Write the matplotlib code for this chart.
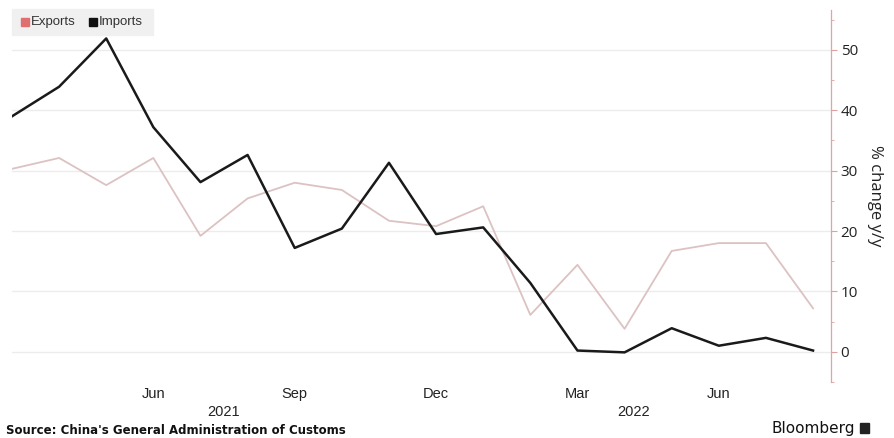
import matplotlib.pyplot as plt
import numpy as np

# monthly data, Mar 2021 .. Aug 2022
months = ['Mar', 'Apr', 'May', 'Jun', 'Jul', 'Aug', 'Sep', 'Oct', 'Nov', 'Dec',
          'Jan', 'Feb', 'Mar', 'Apr', 'May', 'Jun', 'Jul', 'Aug']
years = [2021] * 10 + [2022] * 8
exports = [30.3, 32.1, 27.6, 32.1, 19.2, 25.4, 28.0, 26.8, 21.7, 20.8,
           24.1, 6.1, 14.4, 3.8, 16.7, 18.0, 18.0, 7.2]
imports = [39.0, 43.9, 51.9, 37.2, 28.1, 32.6, 17.2, 20.4, 31.3, 19.5,
           20.6, 11.4, 0.2, -0.1, 3.9, 1.0, 2.3, 0.2]
tick_months = ['Jun', 'Sep', 'Dec', 'Mar']
year_labels = ['2021', '2022']
year_pos = [4.5, 13.2]

narrow = ['Liberation Sans', 'DejaVu Sans']

fig = plt.figure(figsize=(8.94, 4.38), dpi=100)
ax = fig.add_axes([0.0134, 0.128, 0.9161, 0.849])

x = np.arange(len(months))
ax.plot(x, exports, color='#dcc2c2', lw=1.3, zorder=3)
ax.plot(x, imports, color='#1a1a1a', lw=1.8, zorder=4)

ax.set_xlim(0, len(months) - 1 + 0.38)
ax.set_ylim(-5, 56.6)

# right y axis
ax.yaxis.tick_right()
ax.yaxis.set_label_position('right')
ax.set_yticks(np.arange(0, 51, 10))
ax.set_yticks(np.arange(-5, 56, 5), minor=True)
ax.tick_params(axis='y', which='major', length=4, color='#e0a0a0', pad=3,
               labelsize=11, labelcolor='#222222')
ax.tick_params(axis='y', which='minor', length=2, color='#e0a0a0')
for lab in ax.get_yticklabels():
    lab.set_family(['Open Sans', 'DejaVu Sans'])
ax.set_ylabel('% change y/y', rotation=-90, labelpad=18, fontsize=12,
              family=['Open Sans', 'DejaVu Sans'], color='#222222')

for s in ['top', 'left', 'bottom']:
    ax.spines[s].set_visible(False)
ax.spines['right'].set_color('#e3a3a3')
ax.spines['right'].set_linewidth(0.9)

ax.grid(axis='y', which='major', color='#ececec', lw=1.0)
ax.set_axisbelow(True)

# x ticks (skip the very first month at the left edge)
tpos = [i for i, m in enumerate(months) if m in tick_months and i > 0]
ax.set_xticks(tpos)
ax.set_xticklabels([months[i] for i in tpos], family=narrow, fontsize=10.5,
                   color='#222222')
ax.tick_params(axis='x', length=0, pad=4)

for yl, yp in zip(year_labels, year_pos):
    ax.text(yp, -0.062, yl, transform=ax.get_xaxis_transform(), ha='center',
            va='top', family=narrow, fontsize=10.5, color='#222222')

# legend box
fig.patches.append(plt.Rectangle((12 / 894, 1 - 35 / 438), 141 / 894, 26 / 438,
                                 transform=fig.transFigure, color='#f0f0f0',
                                 zorder=0))
fig.patches.append(plt.Rectangle((21 / 894, 1 - 26 / 438), 8 / 894, 8 / 438,
                                 transform=fig.transFigure, color='#e07070'))
fig.text(31 / 894, 1 - 22 / 438, 'Exports', color='#333333', fontsize=9.5,
         va='center', family=narrow)
fig.patches.append(plt.Rectangle((89 / 894, 1 - 26 / 438), 8 / 894, 8 / 438,
                                 transform=fig.transFigure, color='#111111'))
fig.text(99 / 894, 1 - 22 / 438, 'Imports', color='#333333', fontsize=9.5,
         va='center', family=narrow)

fig.text(6 / 894, 1 - 431 / 438, "Source: China's General Administration of Customs",
         fontsize=8.5, weight='bold', va='center', color='#111111',
         family=['DejaVu Sans'])
fig.text(855 / 894, 1 - 428 / 438, 'Bloomberg', fontsize=11, ha='right',
         va='center', color='#111111', weight='medium')
fig.patches.append(plt.Rectangle((860 / 894, 1 - 433 / 438), 9 / 894, 10 / 438,
                                 transform=fig.transFigure, color='#222222'))

fig.savefig('out.png', dpi=100)
